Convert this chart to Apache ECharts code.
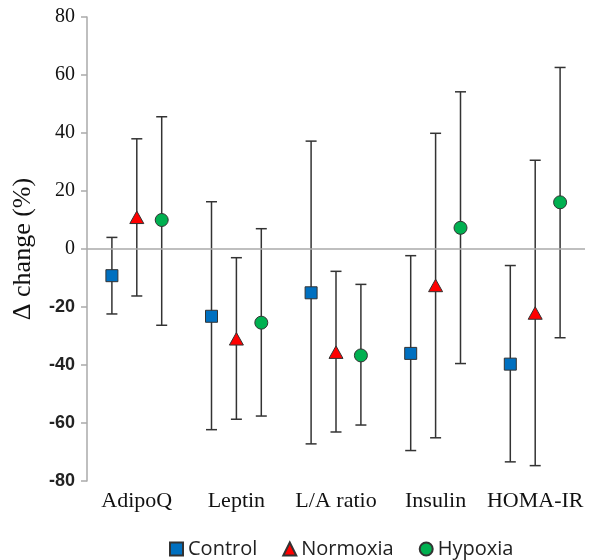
<!DOCTYPE html>
<html>
<head>
<meta charset="utf-8">
<script src="https://cdn.jsdelivr.net/npm/echarts@6/dist/echarts.min.js"></script>
<style>html,body{margin:0;padding:0;background:#fff}#c{width:589px;height:560px}</style>
</head>
<body>
<div id="c"></div>
<script>
const categories = ['AdipoQ', 'Leptin', 'L/A ratio', 'Insulin', 'HOMA-IR'];
const seriesNames = ['Control', 'Normoxia', 'Hypoxia'];
const controlMean = [-9.2, -23.2, -15.1, -36.0, -39.7];
const controlLow  = [-22.4, -62.3, -67.2, -69.5, -73.4];
const controlHigh = [4.0, 16.3, 37.2, -2.3, -5.7];
const normoxiaMean = [10.5, -31.4, -36.0, -13.0, -22.5];
const normoxiaLow  = [-16.2, -58.7, -63.1, -65.1, -74.7];
const normoxiaHigh = [38.0, -3.0, -7.7, 39.9, 30.6];
const hypoxiaMean = [10.0, -25.4, -36.7, 7.3, 16.1];
const hypoxiaLow  = [-26.3, -57.6, -60.7, -39.5, -30.6];
const hypoxiaHigh = [45.6, 7.0, -12.2, 54.2, 62.6];
const yTicks = { min: -80, max: 80, interval: 20 };

const groups = [
  { name: seriesNames[0], mean: controlMean, low: controlLow, high: controlHigh, color: '#0070C0', shape: 'rect', icon: 'rect' },
  { name: seriesNames[1], mean: normoxiaMean, low: normoxiaLow, high: normoxiaHigh, color: '#FF0000', shape: 'triangle', icon: 'triangle' },
  { name: seriesNames[2], mean: hypoxiaMean, low: hypoxiaLow, high: hypoxiaHigh, color: '#00B050', shape: 'circle', icon: 'circle' }
];
const offsets = [-0.25, 0, 0.25];

function makeRender(gi) {
  const g = groups[gi];
  return function (params, api) {
    const i = api.value(0);
    const band = api.size([1, 0])[0];
    const dx = offsets[gi] * band;
    const pm = api.coord([i, api.value(1)]);
    const pl = api.coord([i, api.value(2)]);
    const ph = api.coord([i, api.value(3)]);
    const x = pm[0] + dx;
    const cap = 5.5;
    const lineStyle = { stroke: '#333', lineWidth: 1.5 };
    const children = [
      { type: 'line', shape: { x1: x, y1: ph[1], x2: x, y2: pl[1] }, style: lineStyle },
      { type: 'line', shape: { x1: x - cap, y1: ph[1], x2: x + cap, y2: ph[1] }, style: lineStyle },
      { type: 'line', shape: { x1: x - cap, y1: pl[1], x2: x + cap, y2: pl[1] }, style: lineStyle }
    ];
    const mStyle = { fill: g.color, stroke: '#333', lineWidth: 1 };
    const y = pm[1];
    if (g.shape === 'rect') {
      children.push({ type: 'rect', shape: { x: x - 6, y: y - 6, width: 12, height: 12 }, style: mStyle });
    } else if (g.shape === 'triangle') {
      children.push({ type: 'polygon', shape: { points: [[x, y - 7.5], [x + 7, y + 5], [x - 7, y + 5]] }, style: mStyle });
    } else {
      children.push({ type: 'circle', shape: { cx: x, cy: y, r: 6.5 }, style: mStyle });
    }
    return { type: 'group', children: children };
  };
}

const series = groups.map((g, gi) => ({
  name: g.name,
  type: 'custom',
  renderItem: makeRender(gi),
  itemStyle: { color: g.color, borderColor: '#333', borderWidth: 1 },
  encode: { x: 0, y: [1, 2, 3] },
  data: categories.map((c, i) => [i, g.mean[i], g.low[i], g.high[i]]),
  z: 3
}));
series.push({
  name: 'zero',
  type: 'line',
  data: [],
  silent: true,
  markLine: {
    silent: true,
    symbol: 'none',
    label: { show: false },
    lineStyle: { color: '#aaa', width: 1.5, type: 'solid' },
    data: [{ yAxis: 0 }]
  },
  z: 1
});

const chart = echarts.init(document.getElementById('c'), null, { renderer: 'canvas' });
chart.setOption({
  animation: false,
  backgroundColor: '#fff',
  grid: { left: 87, right: 4, top: 17, bottom: 79 },
  legend: {
    top: 539,
    left: 169,
    padding: 0,
    itemWidth: 13,
    itemHeight: 13,
    itemGap: 25,
    textStyle: { fontFamily: 'Open Sans', fontSize: 20, color: '#222' },
    data: groups.map(g => ({ name: g.name, icon: g.icon }))
  },
  xAxis: {
    type: 'category',
    data: categories,
    axisLine: { show: false },
    axisTick: { show: false },
    axisLabel: { interval: 0, fontFamily: 'Liberation Serif', fontSize: 22, color: '#111', margin: 9 },
    splitLine: { show: false }
  },
  yAxis: {
    type: 'value',
    min: yTicks.min,
    max: yTicks.max,
    interval: yTicks.interval,
    name: 'Δ change (%)',
    nameLocation: 'middle',
    nameGap: 51,
    nameTextStyle: { fontFamily: 'Liberation Serif', fontSize: 26, color: '#111' },
    axisLine: { show: true, lineStyle: { color: '#aaa', width: 1.5 } },
    axisTick: { show: true, length: 6, lineStyle: { color: '#aaa', width: 1.5 } },
    splitLine: { show: false },
    axisLabel: {
      margin: 12,
      fontFamily: "'Liberation Serif', 'Times New Roman', serif",
      fontSize: 20,
      fontWeight: 'normal',
      color: '#111',
      formatter: function (v) { return v < 0 ? '{neg|' + v + '}' : String(v); },
      rich: {
        neg: { fontFamily: "'Liberation Sans', Arial, sans-serif", fontSize: 18, fontWeight: 'bold', color: '#222' }
      }
    }
  },
  series: series
});
</script>
</body>
</html>
